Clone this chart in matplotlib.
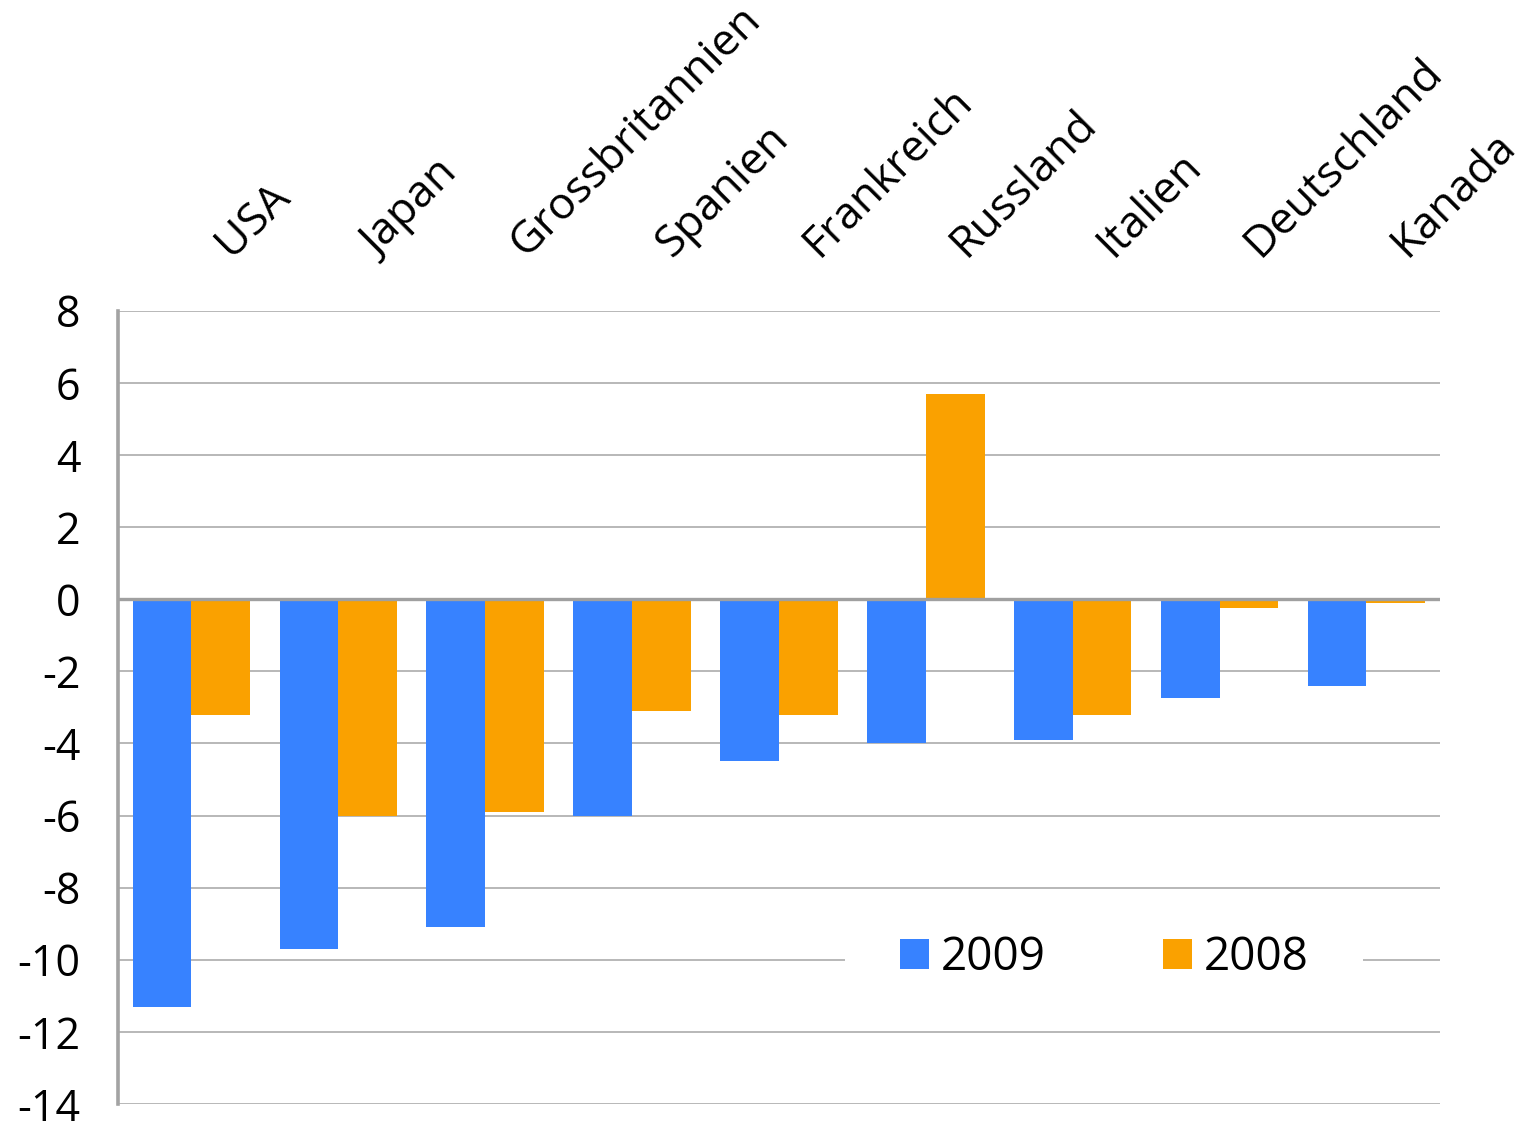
import matplotlib
matplotlib.use('Agg')
import matplotlib.pyplot as plt
import matplotlib.transforms as mtransforms
import numpy as np

plt.rcParams['font.family'] = ['Open Sans', 'DejaVu Sans']

# data
countries = ['USA', 'Japan', 'Grossbritannien', 'Spanien', 'Frankreich',
             'Russland', 'Italien', 'Deutschland', 'Kanada']
val_2009 = [-11.3, -9.7, -9.1, -6.0, -4.5, -4.0, -3.9, -2.75, -2.4]
val_2008 = [-3.2, -6.0, -5.9, -3.1, -3.2, 5.7, -3.2, -0.25, -0.1]
yticks = [8, 6, 4, 2, 0, -2, -4, -6, -8, -10, -12, -14]

blue = '#3782FF'
orange = '#FAA100'
grid_col = '#ABABAB'

fig = plt.figure(figsize=(15.21, 11.21), dpi=100)
ax = fig.add_axes([0.0776, 0.0152, 0.8691, 0.7076])

x = np.arange(len(countries))
w = 0.4
ax.bar(x - w/2, val_2009, w, color=blue, label='2009', zorder=2)
ax.bar(x + w/2, val_2008, w, color=orange, label='2008', zorder=2)

ax.set_xlim(-0.5, len(countries) - 0.5)
ax.set_ylim(-14, 8)
ax.set_yticks(yticks)
ax.set_yticklabels([str(t) for t in yticks])
ax.set_xticks([])
ax.tick_params(axis='y', length=0, pad=27, labelsize=31)

for t in yticks:
    if t != 0:
        ax.axhline(t, color=grid_col, lw=1.2, zorder=1)
ax.axhline(0, color='#A0A0A0', lw=2.4, zorder=3)

for s in ['top', 'right', 'bottom']:
    ax.spines[s].set_visible(False)
ax.spines['left'].set_color('#A3A3A3')
ax.spines['left'].set_linewidth(2.6)
ax.spines['left'].set_zorder(4)

# country names above the plot, rotated 45 deg
trans = mtransforms.blended_transform_factory(ax.transData, ax.transAxes)
for i, name in enumerate(countries):
    ax.text(i + 0.27, 1.066, name, transform=trans, rotation=45,
            rotation_mode='anchor', ha='left', va='baseline', fontsize=32)

leg = ax.legend(loc='center', bbox_to_anchor=(0.746, 0.184), ncol=2,
                fontsize=33, frameon=True, fancybox=False, borderpad=0.3,
                handlelength=0.63, handleheight=0.63, handletextpad=0.26,
                columnspacing=2.55)
frame = leg.get_frame()
frame.set_facecolor('white')
frame.set_edgecolor('none')
frame.set_alpha(1)
frame.set_boxstyle('square', pad=0.9)
frame.set_mutation_aspect(0.3)
leg.set_zorder(5)

fig.savefig('out.png', dpi=100)
